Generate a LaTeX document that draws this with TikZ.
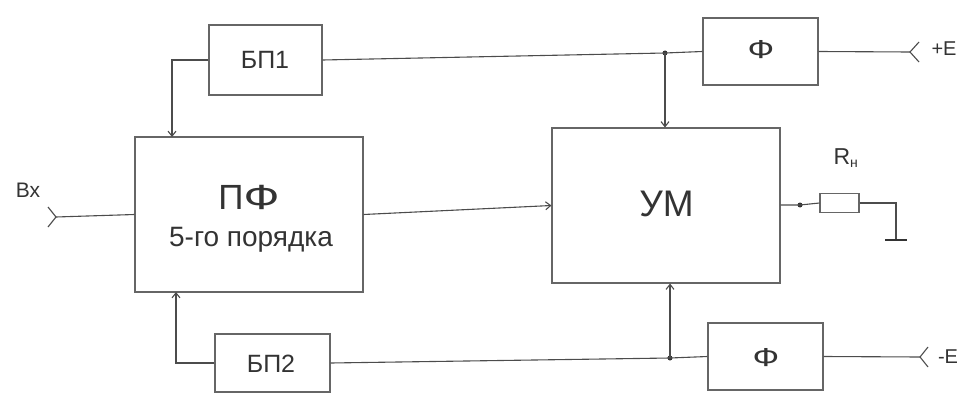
\documentclass[tikz,border=0pt]{standalone}
\usepackage{fontspec}
\setmainfont{Liberation Sans}
\usetikzlibrary{arrows.meta}
\newcommand{\wideF}{\scalebox{1.35}[1]{Ф}}
\begin{document}
\begin{tikzpicture}[x=1pt,y=-1pt,
  wire/.style={draw=black!70,line width=1.1pt},
  arr/.style={wire,-{Straight Barb[length=5pt,width=8pt]}},
  blk/.style={draw=black!60,line width=1.1pt,rectangle,inner sep=0pt,text=black!80},
  lbl/.style={text=black!80,inner sep=0pt},
  dotj/.style={circle,fill=black!80,inner sep=0pt,minimum size=5pt}]
\useasboundingbox (0,0) rectangle (963,396);
% blocks
\node[blk,minimum width=228pt,minimum height=155pt] (pf) at (249,214.5) {};
\node[lbl,font=\fontsize{35}{38}\selectfont] (pft) at (249,197) {П\wideF};
\node[lbl,font=\fontsize{28}{30}\selectfont] (pft2) at (251,240) {5-го порядка};
\node[blk,minimum width=228pt,minimum height=155pt] (um) at (666,205.5) {};
\node[lbl,font=\fontsize{37}{40}\selectfont] (umt) at (666.5,204) {УМ};
\node[blk,minimum width=113pt,minimum height=70pt] (b1) at (265.5,60) {};
\node[lbl,font=\fontsize{25}{28}\selectfont] (b1t) at (265,60) {БП1};
\node[blk,minimum width=115pt,minimum height=58pt] (b2) at (272.5,363) {};
\node[lbl,font=\fontsize{25}{28}\selectfont] (b2t) at (271,364) {БП2};
\node[blk,minimum width=115pt,minimum height=67pt] (f1) at (760.5,51.5) {};
\node[lbl,font=\fontsize{26}{28}\selectfont] (f1t) at (761,50) {\wideF};
\node[blk,minimum width=115pt,minimum height=67pt] (f2) at (765.5,356.5) {};
\node[lbl,font=\fontsize{26}{28}\selectfont] (f2t) at (766,358) {\wideF};
% junctions and points
\node[dotj] (j1) at (665,53) {};
\node[dotj] (j2) at (670,358) {};
\coordinate (pfin1) at (172,137);
\coordinate (pfin2) at (176,292);
\coordinate (bx) at (56,217);
\coordinate (pe) at (910,52);
\coordinate (me) at (920,357);
% power wiring
\draw[wire] (b1.east) -- (j1.center) -- (f1.west);
\draw[wire] (b2.east) -- (j2.center) -- (f2.west);
\draw[arr] (j1.center) -- (j1 |- um.north);
\draw[arr] (j2.center) -- (j2 |- um.south);
\draw[arr] (b1.west) -| (pfin1);
\draw[arr] (b2.west) -| (pfin2);
\draw[arr] (pf.east) -- (um.west);
% input
\draw[wire] (bx) -- (pf.west);
\draw[wire] ([shift={(-8,-10)}]bx) -- (bx) -- ([shift={(-8,10)}]bx);
\node[lbl,font=\fontsize{21}{23}\selectfont] (bxl) at (28,190) {Вх};
% supplies
\draw[wire] (f1.east) -- (pe);
\draw[wire] ([shift={(9,-10)}]pe) -- (pe) -- ([shift={(9,10)}]pe);
\node[lbl,font=\fontsize{20}{22}\selectfont] (pel) at (944,49) {+E};
\draw[wire] (f2.east) -- (me);
\draw[wire] ([shift={(8,-10)}]me) -- (me) -- ([shift={(8,10)}]me);
\node[lbl,font=\fontsize{20}{22}\selectfont] (mel) at (948,357) {-E};
% load
\node[dotj] (jl) at (800,205) {};
\node[blk,minimum width=39pt,minimum height=19pt] (rl) at (839.5,203) {};
\coordinate (gc) at (896,203);
\coordinate (gnd) at (896,240);
\draw[wire] (um.east |- jl) -- (jl.center) -- (rl.west);
\draw[wire] (rl.east) -- (gc) -- (gnd);
\draw[draw=black!80,line width=2.2pt] ([xshift=-11pt]gnd) -- ([xshift=11pt]gnd);
\node[lbl,font=\fontsize{23}{25}\selectfont] (rlab) at (846,158) {R\textsubscript{\fontsize{14}{14}\selectfont н}};
\end{tikzpicture}
\end{document}
